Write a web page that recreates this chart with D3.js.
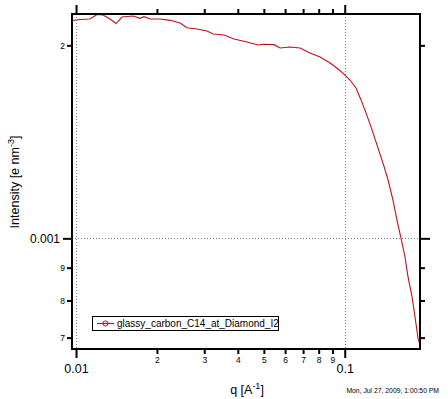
<!DOCTYPE html>
<html><head><meta charset="utf-8">
<script src="https://cdn.jsdelivr.net/npm/d3@7"></script>
<style>
html,body{margin:0;padding:0;background:#fff;}
svg{display:block;font-family:"Liberation Sans",Arial,sans-serif;}
</style></head>
<body><svg id="c" width="448" height="399"></svg>
<script>
// ---- data ----
const qValues = [0.00966,0.01035,0.01127,0.01197,0.01260,0.01338,0.01409,0.01483,0.01630,0.01730,0.01791,0.01885,0.02054,0.02238,0.02438,0.02588,0.02820,0.03073,0.03236,0.03554,0.03873,0.04328,0.04757,0.05008,0.05458,0.05744,0.06258,0.06817,0.07428,0.08093,0.08817,0.09444,0.09940,0.1046,0.1102,0.1150,0.1200,0.1264,0.1319,0.1389,0.1450,0.1512,0.1565,0.1620,0.1676,0.1720,0.1780,0.1811,0.1874,0.1923];
const intensity = [0.002187,0.002195,0.002199,0.002234,0.002230,0.002199,0.002163,0.002214,0.002222,0.002204,0.002217,0.002199,0.002199,0.002188,0.002167,0.002131,0.002121,0.002106,0.002083,0.002076,0.002046,0.002024,0.002003,0.002008,0.002005,0.001981,0.001988,0.001981,0.001946,0.001918,0.001877,0.001837,0.001804,0.001766,0.001716,0.001644,0.001569,0.001476,0.001398,0.001309,0.001233,0.001147,0.001068,0.001000,0.000936,0.000871,0.000811,0.000773,0.000699,0.000672];
const seriesName = "glassy_carbon_C14_at_Diamond_I2";
const xMajorTicks = [0.01, 0.1];
const xMajorLabels = ["0.01", "0.1"];
const xMinorTicks = [0.02,0.03,0.04,0.05,0.06,0.07,0.08,0.09];
const xMinorLabels = ["2","3","4","5","6","7","8","9"];
const yMajorTicks = [0.001];
const yMajorLabels = ["0.001"];
const yMinorTicks = [0.002,0.0009,0.0008,0.0007];
const yMinorLabels = ["2","9","8","7"];
const xGrid = [0.01, 0.1];
const yGrid = [0.001];
const xDomain = [0.00966, 0.1906];
const yDomain = [0.000672, 0.0022384];
const timestamp = "Mon, Jul 27, 2009, 1:00:50 PM";

// ---- layout ----
const L = 72, R = 420, T = 14, B = 349;
const svg = d3.select("#c");
const x = d3.scaleLog().domain(xDomain).range([L, R]);
const y = d3.scaleLog().domain(yDomain).range([B, T]);

svg.append("defs").append("clipPath").attr("id","clip")
  .append("rect").attr("x",L).attr("y",T).attr("width",R-L).attr("height",B-T);

// grid
const grid = svg.append("g").attr("stroke","#7a7fb0").attr("stroke-width",1).attr("stroke-dasharray","1,2");
grid.selectAll(".gx").data(xGrid).join("line")
  .attr("x1",d=>Math.round(x(d))+0.5).attr("x2",d=>Math.round(x(d))+0.5).attr("y1",T).attr("y2",B);
grid.selectAll(".gy").data(yGrid).join("line")
  .attr("y1",d=>Math.round(y(d))+0.5).attr("y2",d=>Math.round(y(d))+0.5).attr("x1",L).attr("x2",R);

// curve
const line = d3.line().x((d,i)=>x(qValues[i])).y((d,i)=>y(intensity[i]));
svg.append("path").datum(intensity).attr("clip-path","url(#clip)")
  .attr("fill","none").attr("stroke","#c0101c").attr("stroke-width",1.1).attr("d",line);

function fmt(ticks, labels){ return d => labels[ticks.indexOf(d)]; }
function styleAxis(g, fs){
  g.select(".domain").remove();
  g.selectAll(".tick line").attr("stroke","#000").attr("stroke-width",2);
  g.selectAll(".tick text").attr("font-size",fs).attr("fill","#000").attr("font-family","'Liberation Sans',Arial,sans-serif");
}
// bottom
svg.append("g").attr("transform",`translate(0,${B})`)
  .call(d3.axisBottom(x).tickValues(xMajorTicks).tickFormat(fmt(xMajorTicks,xMajorLabels)).tickSize(9).tickPadding(6))
  .call(g=>styleAxis(g,12.5));
svg.append("g").attr("transform",`translate(0,${B})`)
  .call(d3.axisBottom(x).tickValues(xMinorTicks).tickFormat(fmt(xMinorTicks,xMinorLabels)).tickSize(5).tickPadding(3))
  .call(g=>styleAxis(g,8.5));
// top
svg.append("g").attr("transform",`translate(0,${T})`)
  .call(d3.axisTop(x).tickValues(xMajorTicks).tickFormat("").tickSize(9)).call(g=>styleAxis(g,8));
svg.append("g").attr("transform",`translate(0,${T})`)
  .call(d3.axisTop(x).tickValues(xMinorTicks).tickFormat("").tickSize(5)).call(g=>styleAxis(g,8));
// left
svg.append("g").attr("transform",`translate(${L},0)`)
  .call(d3.axisLeft(y).tickValues(yMajorTicks).tickFormat(fmt(yMajorTicks,yMajorLabels)).tickSize(9).tickPadding(3))
  .call(g=>styleAxis(g,12));
svg.append("g").attr("transform",`translate(${L},0)`)
  .call(d3.axisLeft(y).tickValues(yMinorTicks).tickFormat(fmt(yMinorTicks,yMinorLabels)).tickSize(5).tickPadding(2))
  .call(g=>styleAxis(g,8.5));
// right
svg.append("g").attr("transform",`translate(${R},0)`)
  .call(d3.axisRight(y).tickValues(yMajorTicks).tickFormat("").tickSize(10)).call(g=>styleAxis(g,8));
svg.append("g").attr("transform",`translate(${R},0)`)
  .call(d3.axisRight(y).tickValues(yMinorTicks).tickFormat("").tickSize(5)).call(g=>styleAxis(g,8));

// frame
svg.append("rect").attr("x",L).attr("y",T).attr("width",R-L).attr("height",B-T)
  .attr("fill","none").attr("stroke","#000").attr("stroke-width",2);

// axis titles
const yt = svg.append("text").attr("transform","translate(19,182) rotate(-90)")
  .attr("text-anchor","middle").attr("font-size",12.5).attr("fill","#000");
yt.append("tspan").text("Intensity [e nm");
yt.append("tspan").attr("dy",-5).attr("font-size",9).text("-3");
yt.append("tspan").attr("dy",5).text("]");

const xt = svg.append("text").attr("x",247).attr("y",394)
  .attr("text-anchor","middle").attr("font-size",12.5).attr("fill","#000");
xt.append("tspan").text("q [A");
xt.append("tspan").attr("dy",-5).attr("font-size",9).text("-1");
xt.append("tspan").attr("dy",5).text("]");

svg.append("text").attr("x",439).attr("y",393).attr("text-anchor","end")
  .attr("font-size",6.8).attr("fill","#000").text(timestamp);

// legend
const lg = svg.append("g");
lg.append("rect").attr("x",92.5).attr("y",316.5).attr("width",186).attr("height",14)
  .attr("fill","#fff").attr("stroke","#000").attr("stroke-width",1);
lg.append("line").attr("x1",97).attr("x2",114).attr("y1",323.5).attr("y2",323.5)
  .attr("stroke","#c0101c").attr("stroke-width",1.2);
lg.append("circle").attr("cx",105.5).attr("cy",323.5).attr("r",2.6)
  .attr("fill","none").attr("stroke","#c0101c").attr("stroke-width",1);
lg.append("text").attr("x",117).attr("y",326.5).attr("font-size",10).attr("fill","#000")
  .text(seriesName);
</script></body></html>
